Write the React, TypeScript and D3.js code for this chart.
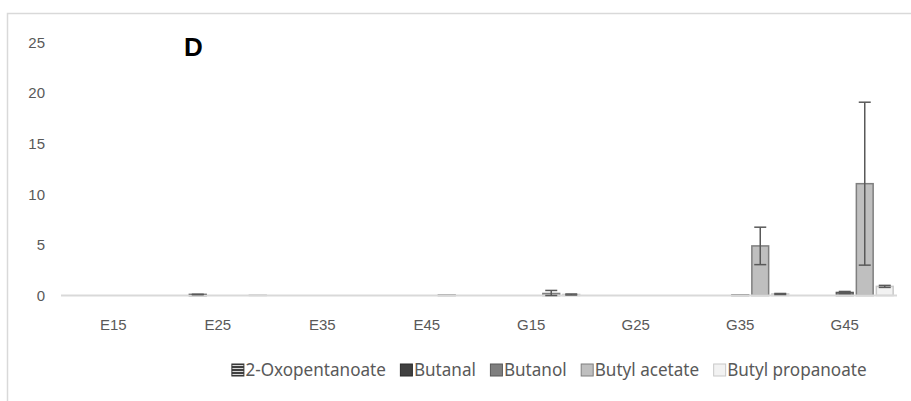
import React, { useEffect, useRef } from "react";
import * as d3 from "d3";

const categories = ["E15", "E25", "E35", "E45", "G15", "G25", "G35", "G45"];
const seriesNames = ["2-Oxopentanoate", "Butanal", "Butanol", "Butyl acetate", "Butyl propanoate"];

const oxopentanoate = [0, 0, 0, 0, 0, 0, 0, 0];
const butanal = [0, 0.1, 0, 0, 0, 0, 0, 0];
const butanol = [0, 0, 0, 0, 0, 0, 0.05, 0.3];
const butylAcetate = [0, 0, 0, 0.05, 0.2, 0, 4.9, 11.05];
const butylPropanoate = [0, 0.05, 0, 0, 0.1, 0, 0.15, 0.9];

const oxopentanoateErr = [0, 0, 0, 0, 0, 0, 0, 0];
const butanalErr = [0, 0.02, 0, 0, 0, 0, 0, 0];
const butanolErr = [0, 0, 0, 0, 0, 0, 0, 0.1];
const butylAcetateErr = [0, 0, 0, 0, 0.3, 0, 1.85, 8.05];
const butylPropanoateErr = [0, 0, 0, 0, 0.05, 0, 0.05, 0.1];

const yTicks = [0, 5, 10, 15, 20, 25];

const values = [oxopentanoate, butanal, butanol, butylAcetate, butylPropanoate];
const errors = [oxopentanoateErr, butanalErr, butanolErr, butylAcetateErr, butylPropanoateErr];

const fills = ["url(#stripes)", "#404040", "#7f7f7f", "#bfbfbf", "#f2f2f2"];
const strokes = ["#333333", "#2b2b2b", "#595959", "#7f7f7f", "#c8c8c8"];

export default function App() {
  const ref = useRef<SVGSVGElement | null>(null);

  useEffect(() => {
    const svg = d3.select(ref.current);
    svg.selectAll("*").remove();

    const defs = svg.append("defs");
    const pat = defs
      .append("pattern")
      .attr("id", "stripes")
      .attr("patternUnits", "userSpaceOnUse")
      .attr("width", 4)
      .attr("height", 3);
    pat.append("rect").attr("width", 4).attr("height", 3).attr("fill", "#d9d9d9");
    pat.append("rect").attr("width", 4).attr("height", 2).attr("fill", "#404040");

    const left = 61;
    const right = 897;
    const y0 = 295.5;
    const yTop = 42.5;

    // chart frame (open on right and bottom)
    svg
      .append("path")
      .attr("d", `M7.5,${401} V13.5 H911`)
      .attr("fill", "none")
      .attr("stroke", "#d9d9d9")
      .attr("stroke-width", 1.5);

    const x0 = d3.scaleBand().domain(categories).range([left, right]).padding(0);
    const bw = x0.bandwidth();
    const x1 = d3
      .scaleBand()
      .domain(seriesNames)
      .range([(bw - 100) / 2, (bw + 100) / 2])
      .paddingInner(0.16)
      .paddingOuter(0.08);
    const y = d3.scaleLinear().domain([0, 25]).range([y0, yTop]);

    // y tick labels
    svg
      .append("g")
      .selectAll("text")
      .data(yTicks)
      .join("text")
      .attr("x", 45)
      .attr("y", (d) => y(d))
      .attr("dy", "0.35em")
      .attr("text-anchor", "end")
      .attr("font-family", "Liberation Sans, Arial, sans-serif")
      .attr("font-size", 15)
      .attr("fill", "#595959")
      .text((d) => d);

    // bars
    seriesNames.forEach((name, si) => {
      const g = svg.append("g");
      categories.forEach((cat, ci) => {
        const v = values[si][ci];
        if (v <= 0) return;
        const bx = (x0(cat) as number) + (x1(name) as number);
        g.append("rect")
          .attr("x", bx)
          .attr("y", y(v))
          .attr("width", x1.bandwidth())
          .attr("height", Math.max(0, y0 - y(v)))
          .attr("fill", fills[si])
          .attr("stroke", strokes[si])
          .attr("stroke-width", 1.5);
      });
    });

    // baseline
    svg
      .append("line")
      .attr("x1", left)
      .attr("x2", right)
      .attr("y1", y0)
      .attr("y2", y0)
      .attr("stroke", "#d9d9d9")
      .attr("stroke-width", 2);

    // error bars
    seriesNames.forEach((name, si) => {
      const g = svg.append("g").attr("stroke", "#595959").attr("stroke-width", 1.5);
      categories.forEach((cat, ci) => {
        const v = values[si][ci];
        const e = errors[si][ci];
        if (e <= 0) return;
        const cx = (x0(cat) as number) + (x1(name) as number) + x1.bandwidth() / 2;
        const lo = Math.max(0, v - e);
        const hi = v + e;
        g.append("line").attr("x1", cx).attr("x2", cx).attr("y1", y(lo)).attr("y2", y(hi));
        [lo, hi].forEach((t) => {
          g.append("line")
            .attr("x1", cx - 6)
            .attr("x2", cx + 6)
            .attr("y1", y(t))
            .attr("y2", y(t));
        });
      });
    });

    // category labels
    svg
      .append("g")
      .selectAll("text")
      .data(categories)
      .join("text")
      .attr("x", (d) => (x0(d) as number) + bw / 2)
      .attr("y", 325)
      .attr("dy", "0.35em")
      .attr("text-anchor", "middle")
      .attr("font-family", "Liberation Sans, Arial, sans-serif")
      .attr("font-size", 15)
      .attr("fill", "#595959")
      .text((d) => d);

    // panel letter
    svg
      .append("text")
      .attr("x", 184)
      .attr("y", 56)
      .attr("font-family", "Liberation Sans, Arial, sans-serif")
      .attr("font-weight", "bold")
      .attr("font-size", 26)
      .attr("fill", "#000")
      .text("D");

    // legend
    const squeeze = 0.95;
    const leg = svg.append("g");
    const legendY = 370;
    const items = leg.selectAll("g").data(seriesNames).join("g");
    items
      .append("rect")
      .attr("x", 0.5)
      .attr("y", legendY - 6)
      .attr("width", 12)
      .attr("height", 12)
      .attr("fill", (_, i) => fills[i])
      .attr("stroke", (_, i) => strokes[i])
      .attr("stroke-width", 1);
    const texts = items
      .append("text")
      .attr("x", 14)
      .attr("y", legendY)
      .attr("dy", "0.36em")
      .attr("font-family", "Noto Sans, sans-serif")
      .attr("font-size", 18)
      .attr("fill", "#595959")
      .text((d) => d);
    const widths = texts.nodes().map((t) => (t as SVGTextElement).getComputedTextLength() * squeeze);
    const gap = 14;
    const total = d3.sum(widths) + widths.length * 14 + (widths.length - 1) * gap;
    let cursor = 549 - total / 2;
    items.each(function (_, i) {
      const t = texts.nodes()[i] as SVGTextElement;
      t.setAttribute("textLength", String(widths[i]));
      t.setAttribute("lengthAdjust", "spacingAndGlyphs");
      d3.select(this).attr("transform", `translate(${cursor},0)`);
      cursor += 14 + widths[i] + gap;
    });
  }, []);

  return (
    <svg
      ref={ref}
      width={911}
      height={401}
      style={{ position: "absolute", left: 0, top: 0, background: "#fff" }}
    />
  );
}
